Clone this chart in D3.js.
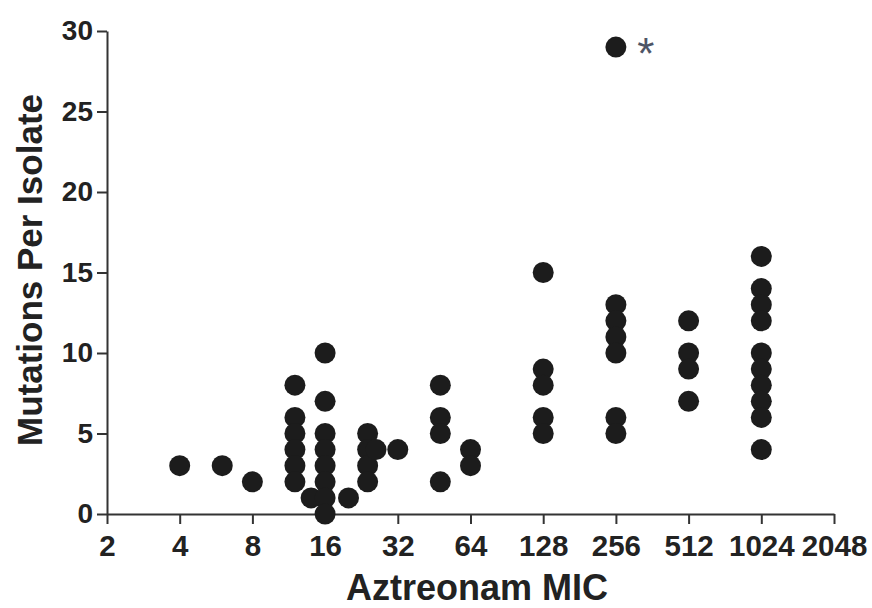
<!DOCTYPE html>
<html>
<head>
<meta charset="utf-8">
<script src="https://cdn.jsdelivr.net/npm/d3@7"></script>
<style>
  html, body { margin: 0; padding: 0; background: #fff; }
  svg { display: block; }
  .axis text { font-family: "Liberation Sans", Arial, sans-serif; font-weight: bold; font-size: 28px; fill: #222; }
  .axis.xaxis text { font-size: 29.5px; }
  .axis path, .axis line { stroke: #333; stroke-width: 2px; }
  .title { font-family: "Liberation Sans", Arial, sans-serif; font-weight: bold; fill: #222; }
</style>
</head>
<body>
<script>
// Aztreonam MIC values (x) and mutations per isolate (y) for each MIC group
const micValues = [4, 6, 8, 12, 14, 16, 20, 24, 26, 32, 48, 64, 128, 256, 512, 1024];
const mutationsPerIsolate = [
  [3],
  [3],
  [2],
  [8, 6, 5, 4, 3, 2],
  [1],
  [10, 7, 5, 4, 3, 2, 1, 0],
  [1],
  [5, 4, 3, 2],
  [4],
  [4],
  [8, 6, 5, 2],
  [4, 3],
  [15, 9, 8, 6, 5],
  [29, 13, 12, 11, 10, 6, 5],
  [12, 10, 9, 7],
  [16, 14, 13, 12, 10, 9, 8, 7, 6, 4]
];
const xTicks = [2, 4, 8, 16, 32, 64, 128, 256, 512, 1024, 2048];
const yTicks = [0, 5, 10, 15, 20, 25, 30];
const outlier = { mic: 256, value: 29, mark: "*" };
const xTitle = "Aztreonam MIC";
const yTitle = "Mutations Per Isolate";

const W = 872, H = 608;
const svg = d3.select("body").append("svg").attr("width", W).attr("height", H);

const x = d3.scaleLog().base(2).domain([2, 2048]).range([107, 834]);
const y = d3.scaleLinear().domain([0, 30]).range([514, 31]);

const points = [];
micValues.forEach((m, i) => mutationsPerIsolate[i].forEach(v => points.push({ mic: m, value: v })));

// Axes
svg.append("g").attr("class", "axis xaxis").attr("transform", `translate(0,${y(0)})`)
  .call(d3.axisBottom(x).tickValues(xTicks).tickFormat(d3.format("d")).tickSize(10).tickSizeOuter(0).tickPadding(11));
svg.append("g").attr("class", "axis").attr("transform", `translate(${x(2)},0)`)
  .call(d3.axisLeft(y).tickValues(yTicks).tickSize(10).tickSizeOuter(0).tickPadding(4));

// Points
svg.append("g").selectAll("circle").data(points).join("circle")
  .attr("cx", d => x(d.mic))
  .attr("cy", d => y(d.value))
  .attr("r", 10.5)
  .attr("fill", "#1c1c1c");

// Asterisk next to outlier
svg.append("text")
  .attr("x", x(outlier.mic) + 30)
  .attr("y", y(outlier.value) + 22)
  .attr("text-anchor", "middle")
  .attr("font-family", "Liberation Sans, Arial, sans-serif")
  .attr("font-size", 44)
  .attr("fill", "#4e5566")
  .text(outlier.mark);

// Titles
svg.append("text").attr("class", "title")
  .attr("x", 477).attr("y", 600)
  .attr("text-anchor", "middle")
  .attr("font-size", 36)
  .text(xTitle);
svg.append("text").attr("class", "title")
  .attr("transform", "translate(42,270) rotate(-90)")
  .attr("text-anchor", "middle")
  .attr("font-size", 35)
  .text(yTitle);
</script>
</body>
</html>
